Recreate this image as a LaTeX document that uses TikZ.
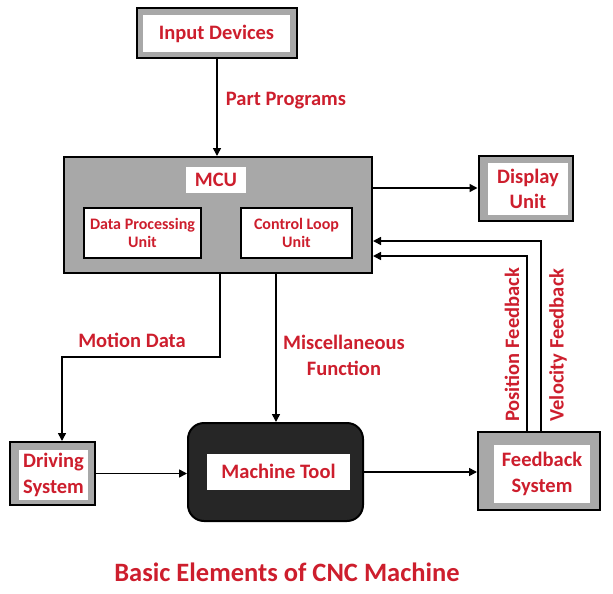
\documentclass[tikz,border=0pt]{standalone}
\usepackage{fontspec}
\setmainfont{Carlito}
\usetikzlibrary{arrows.meta}
\definecolor{lblred}{RGB}{205,30,45}
\definecolor{boxgray}{RGB}{168,168,168}
\definecolor{mtdark}{RGB}{38,38,38}
\begin{document}
\begin{tikzpicture}[x=1pt,y=-1pt,
 outer/.style={draw=black,line width=2pt,fill=boxgray,inner sep=0pt},
 innerw/.style={fill=white,inner sep=0pt,font=\bfseries\fontsize{20.5}{25.5}\selectfont,text=lblred,align=center},
 subbox/.style={draw=black,line width=2pt,fill=white,inner sep=0pt,font=\bfseries\fontsize{16}{18}\selectfont,text=lblred,align=center},
 lbl/.style={font=\bfseries\fontsize{20.5}{26}\selectfont,text=lblred,align=center,inner sep=0pt},
 conn/.style={line width=1.6pt,-{Triangle[length=8pt,width=8pt]}}]
\useasboundingbox (0,0) rectangle (613,594);
% Input devices
\node[outer,minimum width=160pt,minimum height=50pt] (inO) at (217,33) {};
\node[innerw,minimum width=147pt,minimum height=37pt] (inI) at (216.5,33.5) {Input Devices};
% MCU
\node[outer,minimum width=308pt,minimum height=116pt] (mcu) at (218,215) {};
\node[innerw,minimum width=60pt,minimum height=26pt] (mcuL) at (216,180) {MCU};
\node[subbox,minimum width=117pt,minimum height=50pt] (dpu) at (142.5,233) {Data Processing\\Unit};
\node[subbox,minimum width=111pt,minimum height=50pt] (clu) at (296.5,233) {Control Loop\\Unit};
% Display
\node[outer,minimum width=94pt,minimum height=65pt] (dispO) at (525.5,188) {};
\node[innerw,minimum width=80pt,minimum height=52pt] (dispI) at (528,189) {Display\\Unit};
% Driving system
\node[outer,minimum width=85pt,minimum height=63pt] (drvO) at (52.5,473.5) {};
\node[innerw,minimum width=69pt,minimum height=50pt] (drvI) at (53.5,475) {Driving\\System};
% Machine tool
\node[draw=black,line width=2pt,fill=mtdark,rounded corners=16pt,minimum width=175pt,minimum height=98pt] (mtO) at (275.5,472) {};
\node[innerw,minimum width=143pt,minimum height=36pt] (mtI) at (278.5,471.5) {Machine Tool};
% Feedback system
\node[outer,minimum width=122pt,minimum height=78pt] (fbO) at (539,471) {};
\node[innerw,minimum width=96pt,minimum height=58pt] (fbI) at (542,474) {Feedback\\System};
% connectors
\draw[conn] (inO.south) -- (inO.south |- mcu.north);
\node[lbl] (pp) at (286,101) {Part Programs};
\draw[conn] (mcu.east |- dispO.west) -- (dispO.west);
\coordinate (p1) at (527,256);
\coordinate (v1) at (541,241);
\draw[conn] (fbO.north -| p1) -- (p1) -- (mcu.east |- p1);
\draw[conn] (fbO.north -| v1) -- (v1) -- (mcu.east |- v1);
\node[lbl,rotate=90] (posL) at (512,345) {Position Feedback};
\node[lbl,rotate=90] (velL) at (558,345) {Velocity Feedback};
\coordinate (m1) at (220,357);
\coordinate (m2) at (62,357);
\draw[conn] (mcu.south -| m1) -- (m1) -- (m2) -- (drvO.north -| m2);
\node[lbl] (md) at (132,340) {Motion Data};
\coordinate (f1) at (276,0);
\draw[conn] (mcu.south -| f1) -- (mtO.north -| f1);
\node[lbl] (mf) at (344,355) {Miscellaneous\\Function};
\draw[conn] (drvO.east) -- (drvO.east -| mtO.west);
\draw[conn] (mtO.east) -- (mtO.east -| fbO.west);
% title
\node[font=\bfseries\fontsize{26.5}{30}\selectfont,text=lblred] (title) at (287,572) {Basic Elements of CNC Machine};
\end{tikzpicture}
\end{document}
